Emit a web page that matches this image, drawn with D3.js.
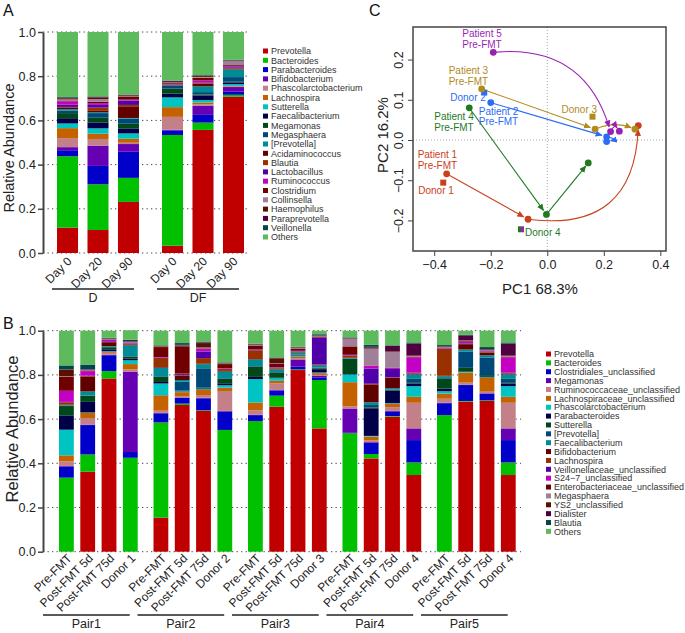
<!DOCTYPE html>
<html><head><meta charset="utf-8">
<script src="https://cdn.jsdelivr.net/npm/d3@7"></script>
<style>body{margin:0;background:#fff}svg{display:block}text{font-family:"Liberation Sans",Arial,sans-serif}</style>
</head><body><svg id="fig" width="685" height="633"></svg>
<script>
// ---------------- DATA ----------------
const palette = ["#c00000","#00c000","#0000c8","#6600b3","#c48088","#c46200","#00c4c4","#000048","#00481a","#004878","#008c96","#600000","#983000","#5000a8","#c400c4","#700000","#a08098","#5a1000","#500040","#004848","#5dbb5d"];

const taxaA = ["Prevotella","Bacteroides","Parabacteroides","Bifidobacterium","Phascolarctobacterium","Lachnospira","Sutterella","Faecalibacterium","Megamonas","Megasphaera","[Prevotella]","Acidaminococcus","Blautia","Lactobacillus","Ruminococcus","Clostridium","Collinsella","Haemophilus","Paraprevotella","Veillonella","Others"];
const groupsA = ["D","DF"];
const sampleLabelsA = ["Day 0","Day 20","Day 90"];
const A_D_day0  = [0.115,0.323,0.027,0.014,0.041,0.045,0.021,0.024,0.023,0.012,0.006,0.006,0.004,0.010,0.015,0.004,0.005,0.005,0.003,0.003,0.294];
const A_D_day20 = [0.104,0.207,0.083,0.092,0.030,0.024,0.024,0.027,0.021,0.021,0.004,0.006,0.015,0.012,0.008,0.006,0.012,0.008,0.003,0.002,0.291];
const A_D_day90 = [0.231,0.109,0.118,0.035,0.006,0.018,0.024,0.023,0.021,0.023,0.003,0.050,0.009,0.020,0.004,0.012,0.003,0.004,0.002,0.002,0.283];
const A_DF_day0 = [0.033,0.501,0.021,0.003,0.058,0.044,0.044,0.017,0.023,0.012,0.002,0.002,0.002,0.002,0.002,0.004,0.002,0.002,0.004,0.002,0.220];
const A_DF_day20= [0.557,0.033,0.035,0.042,0.006,0.008,0.011,0.021,0.004,0.011,0.026,0.012,0.003,0.003,0.009,0.012,0.004,0.004,0.002,0.002,0.195];
const A_DF_day90= [0.707,0.009,0.014,0.021,0.003,0.002,0.008,0.008,0.003,0.021,0.035,0.004,0.003,0.003,0.004,0.005,0.018,0.002,0.002,0.002,0.126];

const taxaB = ["Prevotella","Bacteroides","Clostridiales_unclassified","Megamonas","Ruminococcaceae_unclassified","Lachnospiraceae_unclassified","Phascolarctobacterium","Parabacteroides","Sutterella","[Prevotella]","Faecalibacterium","Bifidobacterium","Lachnospira","Veillonellaceae_unclassified","S24\u22127_unclassified","Enterobacteriaceae_unclassified","Megasphaera","YS2_unclassified","Dialister","Blautia","Others"];
const pairsB = ["Pair1","Pair2","Pair3","Pair4","Pair5"];
const sampleLabelsB = [
  ["Pre-FMT","Post-FMT 5d","Post-FMT 75d","Donor 1"],
  ["Pre-FMT","Post-FMT 5d","Post-FMT 75d","Donor 2"],
  ["Pre-FMT","Post-FMT 5d","Post-FMT 75d","Donor 3"],
  ["Pre-FMT","Post-FMT 5d","Post-FMT 75d","Donor 4"],
  ["Pre-FMT","Post-FMT 5d","Post FMT 75d","Donor 4"]];
const B_p1_pre  = [0,0.335,0.050,0.003,0.021,0.027,0.116,0.065,0.042,0.002,0.002,0.003,0.010,0.002,0.050,0.065,0.002,0.028,0.002,0.018,0.157];
const B_p1_5d   = [0.362,0.078,0.133,0.002,0.030,0.023,0.002,0.048,0.027,0.002,0.018,0.068,0.002,0.002,0.020,0.002,0.002,0.002,0.002,0.022,0.153];
const B_p1_75d  = [0.784,0.033,0.072,0.002,0.009,0.004,0.003,0.009,0.009,0.002,0.003,0.018,0.002,0.003,0.005,0.002,0.002,0.002,0.002,0.002,0.032];
const B_donor1  = [0,0.425,0.026,0.364,0.010,0.024,0.017,0.007,0.008,0.003,0.050,0.004,0.003,0.002,0.002,0.002,0.002,0.002,0.002,0.006,0.043];
const B_p2_pre  = [0.154,0.431,0.041,0.002,0.010,0.070,0.053,0.007,0.023,0.003,0.038,0.003,0.042,0.002,0.002,0.045,0.002,0.002,0.002,0.002,0.066];
const B_p2_5d   = [0.664,0.006,0.026,0.002,0.006,0.018,0.004,0.002,0.002,0.039,0.008,0.020,0.003,0.004,0.002,0.124,0.002,0.002,0.002,0.008,0.056];
const B_p2_75d  = [0.637,0.003,0.054,0.003,0.012,0.023,0.003,0.003,0.004,0.088,0.018,0.004,0.024,0.030,0.011,0.003,0.004,0.020,0.003,0.004,0.049];
const B_donor2  = [0,0.551,0.083,0.003,0.090,0.015,0.011,0.009,0.020,0.003,0.030,0.003,0.009,0.002,0.002,0.018,0.002,0.002,0.002,0.002,0.143];
const B_p3_pre  = [0,0.591,0.027,0.002,0.020,0.035,0.106,0.010,0.047,0.002,0.030,0.002,0.039,0.002,0.002,0.018,0.002,0.002,0.002,0.002,0.059];
const B_p3_5d   = [0.656,0.050,0.023,0.003,0.030,0.011,0.012,0.002,0.024,0.002,0.012,0.003,0.003,0.002,0.002,0.015,0.002,0.023,0.002,0.002,0.121];
const B_p3_75d  = [0.822,0.003,0.012,0.033,0.004,0.008,0.003,0.002,0.002,0.002,0.010,0.002,0.002,0.002,0.002,0.010,0.002,0.002,0.002,0.002,0.073];
const B_donor3  = [0.558,0.219,0.012,0.008,0.003,0.008,0.003,0.015,0.004,0.003,0.010,0.002,0.002,0.120,0.002,0.004,0.002,0.002,0.002,0.005,0.016];
const B_p4_pre  = [0,0.536,0.002,0.110,0.010,0.109,0.035,0.002,0.068,0.002,0.002,0.003,0.008,0.002,0.002,0.038,0.035,0.002,0.002,0.002,0.030];
const B_p4_5d   = [0.422,0.020,0.051,0.003,0.007,0.018,0.003,0.125,0.004,0.011,0.012,0.081,0.003,0.069,0.011,0.002,0.077,0.004,0.004,0.009,0.064];
const B_p4_75d  = [0.611,0.003,0.021,0.002,0.017,0.015,0.003,0.056,0.003,0.003,0.006,0.047,0.002,0.038,0.004,0.002,0.072,0.003,0.024,0.002,0.066];
const B_donor4  = [0.347,0.057,0.101,0.053,0.116,0.027,0.048,0.012,0.003,0.018,0.020,0.003,0.003,0.003,0.068,0.003,0.003,0.003,0.054,0.005,0.053];
const B_p5_pre  = [0,0.618,0.054,0.002,0.018,0.023,0.011,0.012,0.045,0.003,0.008,0.002,0.122,0.002,0.002,0.002,0.002,0.002,0.002,0.005,0.065];
const B_p5_5d   = [0.679,0.003,0.072,0.002,0.009,0.045,0.003,0.002,0.017,0.074,0.009,0.024,0.003,0.002,0.006,0.003,0.002,0.002,0.022,0.002,0.019];
const B_p5_75d  = [0.682,0.003,0.030,0.002,0.007,0.063,0.002,0.002,0.008,0.080,0.010,0.012,0.003,0.002,0.002,0.002,0.002,0.003,0.002,0.009,0.074];

const yTicks = [0,0.2,0.4,0.6,0.8,1.0];

// Panel C (PCoA)
const patients = ["Patient 1","Patient 2","Patient 3","Patient 4","Patient 5"];
const preX  = [-0.356,-0.200,-0.232,-0.276,-0.191];
const preY  = [-0.084, 0.093, 0.127, 0.080, 0.218];
const d5X   = [-0.068, 0.210, 0.169,-0.003, 0.224];
const d5Y   = [-0.197, 0.008, 0.027,-0.185, 0.021];
const d75X  = [ 0.322, 0.210, 0.310, 0.145, 0.255];
const d75Y  = [ 0.036,-0.004, 0.027,-0.057, 0.022];
const donors = ["Donor 1","Donor 2","Donor 3","Donor 4"];
const donorX = [-0.368,-0.223, 0.160,-0.093];
const donorY = [-0.106, 0.118, 0.058,-0.222];
const pcXTicks = [-0.4,-0.2,0.0,0.2,0.4];
const pcYTicks = [-0.2,-0.1,0.0,0.1,0.2];

// ---------------- DRAW ----------------
const svg = d3.select("#fig");
const fmt = d3.format(".1f");

function stackedPanel(o){
  const g = svg.append("g");
  const y = d3.scaleLinear().domain([0,1]).range(o.yRange);
  // grid dots
  g.selectAll(".grid").data(yTicks).join("line")
    .attr("x1",o.axisX).attr("x2",o.gridEnd).attr("y1",d=>y(d)).attr("y2",d=>y(d))
    .attr("stroke","#444").attr("stroke-width",1).attr("stroke-dasharray","1.3,3.2");
  const outer = d3.scaleBand().domain(o.groups).range(o.xRange).paddingInner(o.outerPad).paddingOuter(0);
  const nIn = o.samples[0].length;
  const inner = d3.scaleBand().domain(d3.range(nIn)).range([0,outer.bandwidth()]).paddingInner(o.innerPad);
  const rows = [];
  o.groups.forEach((gr,gi)=>o.samples[gi].forEach((vals,si)=>rows.push({group:gr,si,vals,label:o.labels[gi][si]})));
  const stack = d3.stack().keys(d3.range(o.taxa.length)).value((d,k)=>d.vals[k]);
  const series = stack(rows);
  series.forEach((s,k)=>{
    g.append("g").attr("fill",palette[k]).selectAll("rect").data(s).join("rect")
      .attr("x",d=>outer(d.data.group)+inner(d.data.si))
      .attr("width",inner.bandwidth())
      .attr("y",d=>y(d[1])).attr("height",d=>Math.max(0,y(d[0])-y(d[1])));
  });
  // axis
  const ax = g.append("g").attr("transform",`translate(${o.axisX},0)`)
    .call(d3.axisLeft(y).tickValues(yTicks).tickFormat(fmt).tickSize(5).tickSizeOuter(0));
  ax.select(".domain").attr("stroke","#444").attr("stroke-width",2);
  ax.selectAll(".tick line").attr("stroke","#444").attr("stroke-width",1.5);
  ax.selectAll(".tick text").attr("font-size",12.5).attr("fill","#222").attr("font-family","Liberation Sans, Arial, sans-serif").attr("x",-7);
  // x labels
  g.selectAll(".xl").data(rows).join("text")
    .attr("transform",d=>`translate(${outer(d.group)+inner(d.si)+inner.bandwidth()/2+o.lblDx},${o.lblY}) rotate(-45)`)
    .attr("text-anchor","end").attr("font-size",12).attr("fill","#222").text(d=>d.label);
  // group lines
  o.groups.forEach(gr=>{
    const x0 = outer(gr)+o.lineL, x1 = outer(gr)+outer.bandwidth()+o.lineR;
    g.append("line").attr("x1",x0).attr("x2",x1).attr("y1",o.lineY).attr("y2",o.lineY).attr("stroke","#222").attr("stroke-width",1.3);
    g.append("text").attr("x",(x0+x1)/2).attr("y",o.lineY+13).attr("text-anchor","middle").attr("font-size",12.5).attr("fill","#222").text(gr);
  });
  // y title
  g.append("text").attr("transform",`translate(${o.titleX},${o.titleY}) rotate(-90)`).attr("text-anchor","middle")
    .attr("font-size",o.titleSize).attr("fill","#222").text("Relative Abundance");
  // legend
  const lg = g.append("g");
  o.taxa.forEach((t,i)=>{
    const yy = o.legY + i*o.legStep;
    lg.append("rect").attr("x",o.legX).attr("y",yy-2.5).attr("width",5).attr("height",5).attr("fill",palette[i]);
    lg.append("text").attr("x",o.legX+8).attr("y",yy+3.2).attr("font-size",9).attr("fill","#333").text(t);
  });
}

stackedPanel({
  groups:groupsA, taxa:taxaA,
  samples:[[A_D_day0,A_D_day20,A_D_day90],[A_DF_day0,A_DF_day20,A_DF_day90]],
  labels:[sampleLabelsA,sampleLabelsA],
  yRange:[253,32], xRange:[57,244], outerPad:0.219, innerPad:0.31,
  axisX:43, gridEnd:250, lblDx:5, lblY:262, lineY:289, lineL:-5, lineR:-5,
  titleX:14, titleY:148, titleSize:14.5, legX:263, legY:51, legStep:9.3
});
stackedPanel({
  groups:pairsB, taxa:taxaB,
  samples:[[B_p1_pre,B_p1_5d,B_p1_75d,B_donor1],[B_p2_pre,B_p2_5d,B_p2_75d,B_donor2],[B_p3_pre,B_p3_5d,B_p3_75d,B_donor3],[B_p4_pre,B_p4_5d,B_p4_75d,B_donor4],[B_p5_pre,B_p5_5d,B_p5_75d,B_donor4]],
  labels:sampleLabelsB,
  yRange:[551.7,330.7], xRange:[59,515.7], outerPad:0.167, innerPad:0.305,
  axisX:43, gridEnd:521, lblDx:6, lblY:559, lineY:615, lineL:-16, lineR:-8,
  titleX:18, titleY:429, titleSize:16.5, legX:546, legY:354, legStep:8.87
});

// panel letters
svg.append("text").attr("x",3).attr("y",16).attr("font-size",16).attr("fill","#111").text("A");
svg.append("text").attr("x",3).attr("y",329).attr("font-size",16).attr("fill","#111").text("B");
svg.append("text").attr("x",369).attr("y",16).attr("font-size",16).attr("fill","#111").text("C");

// ---------------- Panel C ----------------
const pcColors = ["#c8411b","#2b6cf6","#b38a1e","#1f7a1f","#9a1fb4"];
const donorColors = ["#c8411b","#2b6cf6","#b38a1e","#1f7a1f"];
const xC = d3.scaleLinear().domain([-0.475,0.42]).range([413,666]);
const yC = d3.scaleLinear().domain([-0.276,0.281]).range([251,27]);
const gc = svg.append("g");
// zero lines
gc.append("line").attr("x1",xC(0)).attr("x2",xC(0)).attr("y1",27).attr("y2",251).attr("stroke","#aaa").attr("stroke-dasharray","1,2");
gc.append("line").attr("x1",413).attr("x2",666).attr("y1",yC(0)).attr("y2",yC(0)).attr("stroke","#aaa").attr("stroke-dasharray","1,2");
// axes
const axB = gc.append("g").attr("transform","translate(0,251)").call(d3.axisBottom(xC).tickValues(pcXTicks).tickFormat(fmt).tickSize(5).tickSizeOuter(0));
const axL = gc.append("g").attr("transform","translate(413,0)").call(d3.axisLeft(yC).tickValues(pcYTicks).tickFormat(fmt).tickSize(5).tickSizeOuter(0));
[axB,axL].forEach(a=>{a.select(".domain").remove();a.selectAll(".tick line").attr("stroke","#444");
  a.selectAll(".tick text").attr("font-size",12.5).attr("fill","#222").attr("font-family","Liberation Sans, Arial, sans-serif");});
axB.selectAll(".tick text").attr("y",9);
axL.selectAll(".tick text").attr("text-anchor","middle").attr("x",0).attr("dy",0)
  .attr("transform","translate(-10,0) rotate(-90)");
gc.append("rect").attr("x",413).attr("y",27).attr("width",253).attr("height",224).attr("fill","none").attr("stroke","#444").attr("stroke-width",1.5);
gc.append("text").attr("x",540).attr("y",294).attr("text-anchor","middle").attr("font-size",15).attr("fill","#222").text("PC1 68.3%");
gc.append("text").attr("transform","translate(388,135) rotate(-90)").attr("text-anchor","middle").attr("font-size",15).attr("fill","#222").text("PC2 16.2%");

// arrow markers
const defs = svg.append("defs");
pcColors.forEach((c,i)=>{
  defs.append("marker").attr("id","ah"+i).attr("viewBox","0 0 10 10").attr("refX",9).attr("refY",5)
    .attr("markerWidth",7).attr("markerHeight",7).attr("markerUnits","userSpaceOnUse").attr("orient","auto")
    .append("path").attr("d","M0,0.5 L10,5 L0,9.5 z").attr("fill",c);
});
const curve1 = [0,0,0,0,0.4];
const curve2 = [-0.54,2.4,0.2,0,0.8];
function arrowPath(x0,y0,x1,y1,k,shortS,shortE){
  const dx=x1-x0, dy=y1-y0, L=Math.hypot(dx,dy);
  const mx=(x0+x1)/2, my=(y0+y1)/2;
  const cx=mx+k*dy, cy=my-k*dx; // control point (perp offset k*L)
  let v0x=cx-x0, v0y=cy-y0, v0=Math.hypot(v0x,v0y)||1;
  let v1x=x1-cx, v1y=y1-cy, v1=Math.hypot(v1x,v1y)||1;
  const sx=x0+v0x/v0*shortS, sy=y0+v0y/v0*shortS;
  const ex=x1-v1x/v1*shortE, ey=y1-v1y/v1*shortE;
  return `M${sx},${sy} Q${cx},${cy} ${ex},${ey}`;
}
patients.forEach((p,i)=>{
  gc.append("path").attr("d",arrowPath(xC(preX[i]),yC(preY[i]),xC(d5X[i]),yC(d5Y[i]),curve1[i],3,5))
    .attr("fill","none").attr("stroke",pcColors[i]).attr("stroke-width",1.1).attr("marker-end",`url(#ah${i})`);
  gc.append("path").attr("d",arrowPath(xC(d5X[i]),yC(d5Y[i]),xC(d75X[i]),yC(d75Y[i]),curve2[i],2,4))
    .attr("fill","none").attr("stroke",pcColors[i]).attr("stroke-width",1.1).attr("marker-end",`url(#ah${i})`);
});
// donors (squares)
donors.forEach((d,i)=>{
  const x=xC(donorX[i]), y=yC(donorY[i]);
  if(i===3){
    gc.append("rect").attr("x",x-3).attr("y",y-3).attr("width",3).attr("height",6).attr("fill",pcColors[3]);
    gc.append("rect").attr("x",x).attr("y",y-3).attr("width",3).attr("height",6).attr("fill",pcColors[4]);
  } else {
    gc.append("rect").attr("x",x-3).attr("y",y-3).attr("width",6).attr("height",6).attr("fill",donorColors[i]);
  }
});
// patient points
patients.forEach((p,i)=>{
  [[preX,preY],[d5X,d5Y],[d75X,d75Y]].forEach(([X,Y])=>{
    gc.append("circle").attr("cx",xC(X[i])).attr("cy",yC(Y[i])).attr("r",3.4).attr("fill",pcColors[i]);
  });
});
// labels (offsets in px from the point)
const preLblOff = [[-29,-15.5],[-12,12],[-33,-14.5],[-35,12],[-31,-15]];
patients.forEach((p,i)=>{
  const x=xC(preX[i])+preLblOff[i][0], y=yC(preY[i])+preLblOff[i][1];
  const t=gc.append("text").attr("x",x).attr("y",y).attr("font-size",10).attr("fill",pcColors[i]);
  t.append("tspan").attr("x",x).text(p);
  t.append("tspan").attr("x",x).attr("dy",10.8).text("Pre-FMT");
});
const donorLblOff = [[-25,11],[-34,8],[-31,-3.5],[4,7]];
donors.forEach((d,i)=>{
  gc.append("text").attr("x",xC(donorX[i])+donorLblOff[i][0]).attr("y",yC(donorY[i])+donorLblOff[i][1])
    .attr("font-size",10).attr("fill",donorColors[i]).text(d);
});
</script></body></html>
